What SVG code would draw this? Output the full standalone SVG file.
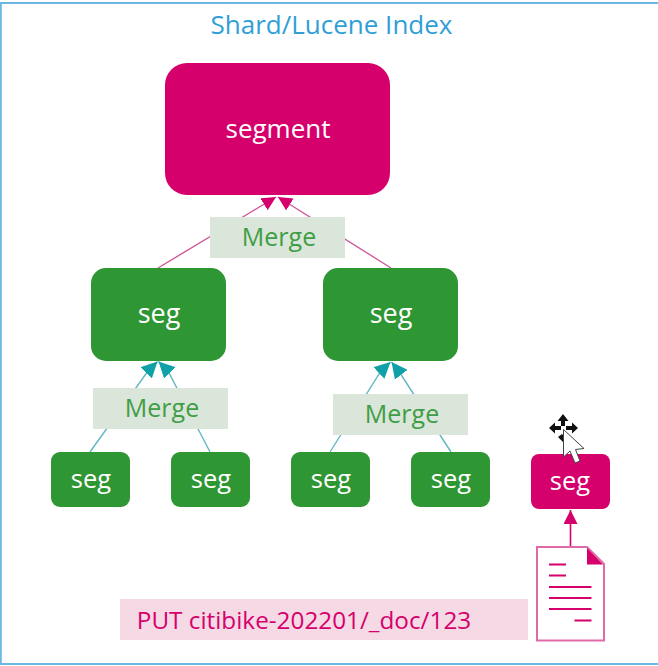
<svg xmlns="http://www.w3.org/2000/svg" width="658" height="666" viewBox="0 0 658 666">
<style>
text{font-family:"Open Sans","Noto Sans","Liberation Sans",sans-serif;text-anchor:middle}
.g{fill:#2e9632}
.p{fill:#d6006c}
.w{fill:#fff}
.mb{fill:#dbe6da}
.mt{fill:#3f9e45;font-size:25px}
.c1{stroke:#cf5a98;stroke-width:1.4;fill:none}
.c2{stroke:#62b8c2;stroke-width:1.4;fill:none}
.d{stroke:#d6006c;stroke-width:2.2;fill:none}
.b{font-size:27px}
.s{font-size:25.500px}
</style>
<defs>
<marker id="mp" viewBox="0 0 10 10" refX="10" refY="5" markerWidth="14" markerHeight="14" markerUnits="userSpaceOnUse" orient="auto"><path d="M0 0L10 5L0 10z" fill="#d6006c"/></marker>
<marker id="mt" viewBox="0 0 10 10" refX="10" refY="5" markerWidth="16" markerHeight="16" markerUnits="userSpaceOnUse" orient="auto"><path d="M0 0L10 5L0 10z" fill="#0fa0a8"/></marker>
</defs>
<rect x="0" y="0" width="658" height="666" fill="#fff"/>
<path id="frame" d="M658 3H0.800V664H658" fill="none" stroke="#6db8e2" stroke-width="2"/>
<text x="331.500" y="34" font-size="26" fill="#2f9fd6">Shard/Lucene Index</text>
<g id="connectors">
<path class="c1" marker-end="url(#mp)" d="M158 268L276 197"/>
<path class="c1" marker-end="url(#mp)" d="M391 268L278 197"/>
<path class="c2" marker-end="url(#mt)" d="M90 452L148 371L157.500 361.500"/>
<path class="c2" marker-end="url(#mt)" d="M210 452L168 371L158.500 361.500"/>
<path class="c2" marker-end="url(#mt)" d="M330 452L381 371L390.500 362"/>
<path class="c2" marker-end="url(#mt)" d="M451 452L400 373L391.500 362"/>
<path stroke="#d6006c" stroke-width="1.600" fill="none" marker-end="url(#mp)" d="M570.500 547V510"/>
</g>
<g id="segment-top"><rect class="p" x="165" y="63" width="225" height="132" rx="22"/><text class="w" x="278" y="138" font-size="26">segment</text></g>
<g id="merge-top"><rect class="mb" x="210" y="217" width="135" height="41"/><text class="mt" x="279" y="246">Merge</text></g>
<g id="seg-l"><rect class="g" x="91" y="268" width="135" height="93" rx="15"/><text class="w b" x="159" y="323">seg</text></g>
<g id="seg-r"><rect class="g" x="323" y="268" width="135" height="93" rx="15"/><text class="w b" x="391" y="323">seg</text></g>
<g id="merge-l"><rect class="mb" x="93" y="388" width="135" height="41"/><text class="mt" x="162" y="417">Merge</text></g>
<g id="merge-r"><rect class="mb" x="333" y="394" width="135" height="41"/><text class="mt" x="402" y="423">Merge</text></g>
<g id="seg-1"><rect class="g" x="51" y="452" width="79" height="55" rx="9"/><text class="w s" x="91" y="488">seg</text></g>
<g id="seg-2"><rect class="g" x="171" y="452" width="79" height="55" rx="9"/><text class="w s" x="211" y="488">seg</text></g>
<g id="seg-3"><rect class="g" x="291" y="452" width="79" height="55" rx="9"/><text class="w s" x="331" y="488">seg</text></g>
<g id="seg-4"><rect class="g" x="411" y="452" width="79" height="55" rx="9"/><text class="w s" x="451" y="488">seg</text></g>
<g id="seg-new"><rect class="p" x="531" y="454" width="79" height="55" rx="8"/><text class="w s" x="570" y="490">seg</text></g>
<g id="cursor">
<path d="M563 414l5.500 7h-3.500v5h-4v-5h-3.500z M549 428l6-5.500v3.500h6v4h-6v3.500z M578 428l-6-5.500v3.500h-6v4h6v3.500z M558 437l4-3 4 4-3 4z" fill="#111"/>
<path d="M563.500 429.500V457L570 451L575 463L580 461L575.500 449.500L584 448.500z" fill="#fff" stroke="#444" stroke-width="1"/>
</g>
<g id="doc">
<path d="M537 547H587L604 564V640.500H537z" fill="#fff" stroke="#e06aa8" stroke-width="2"/>
<path d="M587 548V564.500H603z" fill="#d6006c"/>
<path class="d" d="M549 564.500H566M549 575.500H566M549 587H591.500M549 598H591.500M549 609H591.500M574.500 620.500H591.500"/>
</g>
<g id="put"><rect x="120" y="599" width="408" height="41" fill="#f5d9e5"/><text x="304" y="629" font-size="24.300" fill="#d6006c">PUT citibike-202201/_doc/123</text></g>
</svg>
